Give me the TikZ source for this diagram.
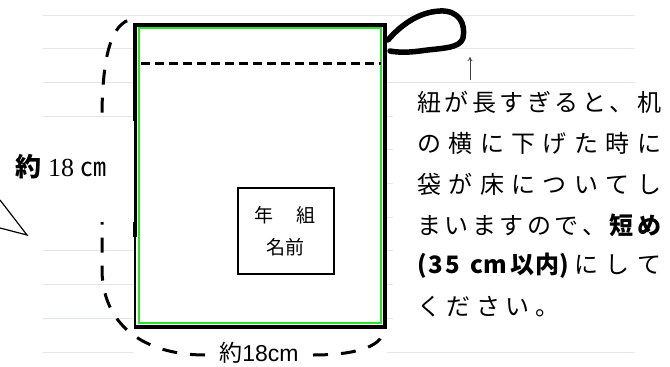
\documentclass[tikz,border=0pt]{standalone}
\usepackage{fontspec}
\setmainfont{Liberation Serif}
\newfontfamily\cjk{Noto Sans CJK JP}
\newfontfamily\arialf{Liberation Sans}
\usetikzlibrary{arrows.meta}
\definecolor{ruleline}{RGB}{226,229,236}
\definecolor{bagGreen}{RGB}{40,225,40}
\newcommand\jline[1]{\makebox[244pt][l]{#1}}
\tikzset{
  ruled/.style={draw=ruleline, line width=1pt},
  dimcurve/.style={line width=3pt, dash pattern=on 15pt off 13pt},
  bodytext/.style={anchor=west, inner sep=0pt, font=\cjk\fontsize{24}{24}\selectfont},
  nametext/.style={inner sep=0pt, font=\cjk\fontsize{19}{19}\selectfont}
}
\begin{document}
\begin{tikzpicture}[x=1pt,y=-1pt]
\useasboundingbox (0,0) rectangle (670,367);
\fill[white] (0,0) rectangle (670,367);
% ruled paper
\foreach \k in {0,...,10} \draw[ruled] (43,15+33.7*\k) -- (635,15+33.7*\k);
% white covers
\fill[white] (393,86) rectangle (670,345);
\fill[white] (133,327) rectangle (387,362);
% bag
\fill[white] (135,25) rectangle (385,327);
\draw[bagGreen, line width=1.6pt] (139,28) rectangle (381,323);
\draw[line width=3.5pt, line join=miter] (135,237) -- (135,25) -- (385,25) -- (385,327) -- (133.5,327);
\draw[line width=1.4pt] (135,236) -- (135,327);
\draw[line width=3pt, dash pattern=on 9pt off 5pt] (141,63) -- (381,63);
% string loop
\draw[line width=5.5pt, fill=white, line cap=round, line join=round]
  (388,40) .. controls (400,26) and (418,12) .. (440,11)
  .. controls (459,10) and (466,24) .. (463,38)
  .. controls (460,49) and (440,48) .. (420,51)
  .. controls (405,53) and (395,52) .. (390,51);
% arrow
\coordinate (arrS) at (470,80);
\coordinate (arrE) at (470,57);
\draw[-{To[length=4pt,width=5pt]}, line width=0.7pt, black!75] (arrS) -- (arrE);
% name box
\node[draw, line width=2.2pt, fill=white, minimum width=96pt, minimum height=86pt, inner sep=0pt] (namebox) at (286,231) {};
\node[nametext] (nameA) at (285,215) {年\hspace{23pt}組};
\node[nametext] (nameB) at (285,247) {名前};
% dimension curves
\coordinate (wL) at (205,355);
\coordinate (wR) at (313,355);
\coordinate (hTop) at (133,19);
\coordinate (bagBR) at (384,330);
\draw[dimcurve] (wL) .. controls (150,355) and (104,330) .. (102,272) -- (102,110) .. controls (103,60) and (110,22) .. (hTop);
\draw[dimcurve] (wR) .. controls (352,355) and (382,348) .. (bagBR);
\node[fill=white, inner sep=1pt, font=\fontsize{23}{23}\selectfont] (wlabel) at (259,353) {{\cjk 約}{\arialf 18cm}};
% left label with cover
\fill[white] (0,121) rectangle (134,222);
\node[inner sep=0pt, font=\fontsize{26}{26}\selectfont] (hlabel) at (61,167) {{\cjk\bfseries 約} 18 {\cjk ㎝}};
\coordinate (p1) at (0,200);
\coordinate (p2) at (0,228);
\coordinate (ptip) at (27,235);
\draw[line width=1.2pt] (p1) -- (ptip) -- (p2);
% body text
\node[bodytext] (t1) at (417,102) {\jline{紐\hfill が\hfill 長\hfill す\hfill ぎ\hfill る\hfill と\hfill 、\hfill 机}};
\node[bodytext] (t2) at (417,143) {\jline{の\hfill 横\hfill に\hfill 下\hfill げ\hfill た\hfill 時\hfill に}};
\node[bodytext] (t3) at (417,184) {\jline{袋\hfill が\hfill 床\hfill に\hfill つ\hfill い\hfill て\hfill し}};
\node[bodytext] (t4) at (417,225) {\jline{ま\hfill い\hfill ま\hfill す\hfill の\hfill で\hfill 、\hfill {\bfseries 短}\hfill {\bfseries め}}};
\node[bodytext] (t5) at (417,266) {\jline{{\bfseries\makebox[150pt][l]{(\hspace{2pt}3\hspace{2pt}5\hspace{10pt}c\hspace{1pt}m\hspace{3pt}以\hspace{1pt}内\hfill )}}\hfill に\hfill し\hfill て}};
\node[bodytext] (t6) at (417,307) {\makebox[142pt][l]{く\hfill だ\hfill さ\hfill い\hfill 。}};
\end{tikzpicture}
\end{document}
